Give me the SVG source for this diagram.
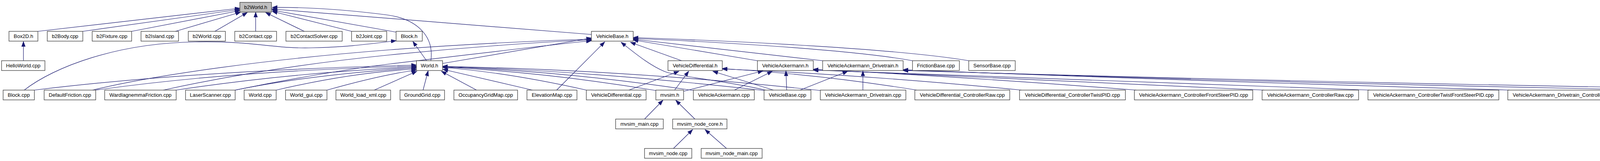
<svg xmlns="http://www.w3.org/2000/svg" width="4987" height="411" viewBox="0 0 4987 411">
<defs>
<style>
.node rect{fill:#ffffff;stroke:#3a3a3a;stroke-width:1.3}
.node rect.hl{fill:#bfbfbf}
.node text{font-family:"Liberation Sans",Arial,Helvetica,sans-serif;font-size:13px;fill:#000;text-anchor:middle}
#edges path{fill:none;stroke:#191970;stroke-width:1.2;marker-end:url(#ah)}
</style>
<marker id="ah" markerUnits="userSpaceOnUse" markerWidth="14" markerHeight="11" refX="13" refY="5.5" orient="auto">
<path d="M0,0.8 L13,5.5 L0,10.2 Z" fill="#191970" stroke="#191970" stroke-width="1"/>
</marker>
</defs>
<rect width="4987" height="411" fill="#ffffff"/>
<g id="edges">
<path d="M97,80 L614,21"/>
<path d="M212,80 L614,24"/>
<path d="M337,80 L614,27"/>
<path d="M449,80 L616,31"/>
<path d="M550,80 L633,32"/>
<path d="M654.5,80 L654.5,31"/>
<path d="M779,80 L680,32"/>
<path d="M900,80 L697,29"/>
<path d="M1014,82 L697,26"/>
<path d="M1103,155 C1112,90 1065,48 990,38 C880,24 780,18 697,19"/>
<path d="M1514,88 L695,23"/>
<path d="M60,155 L60,106"/>
<path d="M1092,155 L1057,106"/>
<path d="M62,230 C140,170 300,110 500,107 C650,104 700,125 800,122 C900,120 960,110 1014,104"/>
<path d="M88,230 Q500,180 1066,166"/>
<path d="M245,230 Q600,180 1066,169"/>
<path d="M451,230 Q750,185 1066,171"/>
<path d="M602,230 Q800,190 1066,173"/>
<path d="M707,230 Q900,185 1066,176"/>
<path d="M837,230 Q980,190 1066,179"/>
<path d="M958,230 L1067,182"/>
<path d="M1083,230 L1096,181"/>
<path d="M1220,230 L1130,182"/>
<path d="M1363,230 L1134,177"/>
<path d="M1501,230 Q1300,185 1133,172"/>
<path d="M1679,231 Q1400,185 1133,171"/>
<path d="M1775,231 Q1450,182 1133,170.5"/>
<path d="M1956,231 Q1500,180 1133,170"/>
<path d="M2100,231 Q1600,178 1133,169.5"/>
<path d="M1133,162 L1514,97"/>
<path d="M237,230 C400,190 700,150 1000,127 C1200,112 1400,103 1514,100"/>
<path d="M418,230 C600,190 800,160 1000,140 C1200,120 1400,106 1514,102"/>
<path d="M602,230 C750,200 900,175 1000,163 C1200,140 1400,115 1514,104"/>
<path d="M1425,230 L1548,107"/>
<path d="M1960,230 C1850,205 1730,195 1700,182 C1660,165 1625,135 1590,108"/>
<path d="M1745,155 L1614,108"/>
<path d="M1939,155 L1621,102"/>
<path d="M2106,155 L1621,100"/>
<path d="M2336,155 C2200,130 1900,110 1621,98"/>
<path d="M2480,155 C2300,125 1900,105 1621,96"/>
<path d="M1610,230 L1738,182"/>
<path d="M1727,230 L1763,182"/>
<path d="M1980,230 L1825,182"/>
<path d="M2347,230 Q2100,190 1849,175"/>
<path d="M2615,230 Q2200,190 1849,176"/>
<path d="M1750,233 L1953,181"/>
<path d="M1880,230 L1977,182"/>
<path d="M2014,230 L2012,181"/>
<path d="M2909,230 Q2450,195 2082,177"/>
<path d="M3236,230 Q2600,200 2082,178"/>
<path d="M3507,230 Q2800,205 2082,179"/>
<path d="M2048,230 L2170,182"/>
<path d="M2209,230 L2209,181"/>
<path d="M3865,230 Q3000,205 2312,178"/>
<path d="M4257,230 Q3200,210 2312,179"/>
<path d="M4591,230 Q3400,212 2312,180"/>
<path d="M1650,304 L1697,256"/>
<path d="M1779,304 L1730,256"/>
<path d="M1724,379 L1773,331"/>
<path d="M1860,379 L1805,331"/>
</g>
<g id="n_b2World_h" class="node"><rect class="hl" x="614" y="6" width="81" height="25"/><text x="654.5" y="23">b2World.h</text></g>
<g id="n_Box2D_h" class="node"><rect x="23" y="80" width="74" height="25"/><text x="60" y="97">Box2D.h</text></g>
<g id="n_b2Body_cpp" class="node"><rect x="121" y="80" width="91" height="25"/><text x="166.5" y="97">b2Body.cpp</text></g>
<g id="n_b2Fixture_cpp" class="node"><rect x="236" y="80" width="101" height="25"/><text x="286.5" y="97">b2Fixture.cpp</text></g>
<g id="n_b2Island_cpp" class="node"><rect x="361" y="80" width="96" height="25"/><text x="409" y="97">b2Island.cpp</text></g>
<g id="n_b2World_cpp" class="node"><rect x="482" y="80" width="95" height="25"/><text x="529.5" y="97">b2World.cpp</text></g>
<g id="n_b2Contact_cpp" class="node"><rect x="601" y="80" width="107" height="25"/><text x="654.5" y="97">b2Contact.cpp</text></g>
<g id="n_b2ContactSolver_cpp" class="node"><rect x="732" y="80" width="144" height="25"/><text x="804" y="97">b2ContactSolver.cpp</text></g>
<g id="n_b2Joint_cpp" class="node"><rect x="900" y="80" width="90" height="25"/><text x="945" y="97">b2Joint.cpp</text></g>
<g id="n_Block_h" class="node"><rect x="1014" y="80" width="67" height="25"/><text x="1047.5" y="97">Block.h</text></g>
<g id="n_VehicleBase_h" class="node"><rect x="1514" y="80" width="107" height="25"/><text x="1567.5" y="97">VehicleBase.h</text></g>
<g id="n_HelloWorld_cpp" class="node"><rect x="4" y="155" width="111" height="25"/><text x="59.5" y="172">HelloWorld.cpp</text></g>
<g id="n_World_h" class="node"><rect x="1066" y="155" width="67" height="25"/><text x="1099.5" y="172">World.h</text></g>
<g id="n_VehicleDifferential_h" class="node"><rect x="1710" y="155" width="139" height="25"/><text x="1779.5" y="172">VehicleDifferential.h</text></g>
<g id="n_VehicleAckermann_h" class="node"><rect x="1939" y="155" width="143" height="25"/><text x="2010.5" y="172">VehicleAckermann.h</text></g>
<g id="n_VehicleAckermann_Drivetrain_h" class="node"><rect x="2106" y="155" width="206" height="25"/><text x="2209" y="172">VehicleAckermann_Drivetrain.h</text></g>
<g id="n_FrictionBase_cpp" class="node"><rect x="2336" y="155" width="120" height="25"/><text x="2396" y="172">FrictionBase.cpp</text></g>
<g id="n_SensorBase_cpp" class="node"><rect x="2480" y="155" width="119" height="25"/><text x="2539.5" y="172">SensorBase.cpp</text></g>
<g id="n_Block_cpp" class="node"><rect x="8" y="230" width="80" height="25"/><text x="48" y="247">Block.cpp</text></g>
<g id="n_DefaultFriction_cpp" class="node"><rect x="113" y="230" width="132" height="25"/><text x="179" y="247">DefaultFriction.cpp</text></g>
<g id="n_WardIagnemmaFriction_cpp" class="node"><rect x="268" y="230" width="183" height="25"/><text x="359.5" y="247">WardIagnemmaFriction.cpp</text></g>
<g id="n_LaserScanner_cpp" class="node"><rect x="475" y="230" width="127" height="25"/><text x="538.5" y="247">LaserScanner.cpp</text></g>
<g id="n_World_cpp" class="node"><rect x="625" y="230" width="82" height="25"/><text x="666" y="247">World.cpp</text></g>
<g id="n_World_gui_cpp" class="node"><rect x="731" y="230" width="106" height="25"/><text x="784" y="247">World_gui.cpp</text></g>
<g id="n_World_load_xml_cpp" class="node"><rect x="860" y="230" width="140" height="25"/><text x="930" y="247">World_load_xml.cpp</text></g>
<g id="n_GroundGrid_cpp" class="node"><rect x="1024" y="230" width="114" height="25"/><text x="1081" y="247">GroundGrid.cpp</text></g>
<g id="n_OccupancyGridMap_cpp" class="node"><rect x="1162" y="230" width="163" height="25"/><text x="1243.5" y="247">OccupancyGridMap.cpp</text></g>
<g id="n_ElevationMap_cpp" class="node"><rect x="1349" y="230" width="128" height="25"/><text x="1413" y="247">ElevationMap.cpp</text></g>
<g id="n_VehicleDifferential_cpp" class="node"><rect x="1501" y="230" width="153" height="25"/><text x="1577.5" y="247">VehicleDifferential.cpp</text></g>
<g id="n_mvsim_h" class="node"><rect x="1679" y="230" width="71" height="25"/><text x="1714.5" y="247">mvsim.h</text></g>
<g id="n_VehicleAckermann_cpp" class="node"><rect x="1775" y="230" width="156" height="25"/><text x="1853" y="247">VehicleAckermann.cpp</text></g>
<g id="n_VehicleBase_cpp" class="node"><rect x="1956" y="230" width="120" height="25"/><text x="2016" y="247">VehicleBase.cpp</text></g>
<g id="n_VehicleAckermann_Drivetrain_cpp" class="node"><rect x="2100" y="230" width="219" height="25"/><text x="2209.5" y="247">VehicleAckermann_Drivetrain.cpp</text></g>
<g id="n_VehicleDifferential_ControllerRaw_cpp" class="node"><rect x="2342" y="230" width="243" height="25"/><text x="2463.5" y="247">VehicleDifferential_ControllerRaw.cpp</text></g>
<g id="n_VehicleDifferential_ControllerTwistPID_cpp" class="node"><rect x="2610" y="230" width="271" height="25"/><text x="2745.5" y="247">VehicleDifferential_ControllerTwistPID.cpp</text></g>
<g id="n_VehicleAckermann_ControllerFrontSteerPID_cpp" class="node"><rect x="2904" y="230" width="303" height="25"/><text x="3055.5" y="247">VehicleAckermann_ControllerFrontSteerPID.cpp</text></g>
<g id="n_VehicleAckermann_ControllerRaw_cpp" class="node"><rect x="3231" y="230" width="247" height="25"/><text x="3354.5" y="247">VehicleAckermann_ControllerRaw.cpp</text></g>
<g id="n_VehicleAckermann_ControllerTwistFrontSteerPID_cpp" class="node"><rect x="3502" y="230" width="335" height="25"/><text x="3669.5" y="247">VehicleAckermann_ControllerTwistFrontSteerPID.cpp</text></g>
<g id="n_VehicleAckermann_Drivetrain_ControllerFrontSteerPID_cpp" class="node"><rect x="3860" y="230" width="367" height="25"/><text x="4043.5" y="247">VehicleAckermann_Drivetrain_ControllerFrontSteerPID.cpp</text></g>
<g id="n_VehicleAckermann_Drivetrain_ControllerRaw_cpp" class="node"><rect x="4252" y="230" width="309" height="25"/><text x="4406.5" y="247">VehicleAckermann_Drivetrain_ControllerRaw.cpp</text></g>
<g id="n_Vehicleackermann_Drivetrain_ControllerTwistFrontSteerPID_cpp" class="node"><rect x="4586" y="230" width="396" height="25"/><text x="4784" y="247">Vehicleackermann_Drivetrain_ControllerTwistFrontSteerPID.cpp</text></g>
<g id="n_mvsim_main_cpp" class="node"><rect x="1576" y="304" width="122" height="25"/><text x="1637" y="321">mvsim_main.cpp</text></g>
<g id="n_mvsim_node_core_h" class="node"><rect x="1722" y="304" width="139" height="25"/><text x="1791.5" y="321">mvsim_node_core.h</text></g>
<g id="n_mvsim_node_cpp" class="node"><rect x="1650" y="379" width="121" height="25"/><text x="1710.5" y="396">mvsim_node.cpp</text></g>
<g id="n_mvsim_node_main_cpp" class="node"><rect x="1795" y="379" width="156" height="25"/><text x="1873" y="396">mvsim_node_main.cpp</text></g>
</svg>
